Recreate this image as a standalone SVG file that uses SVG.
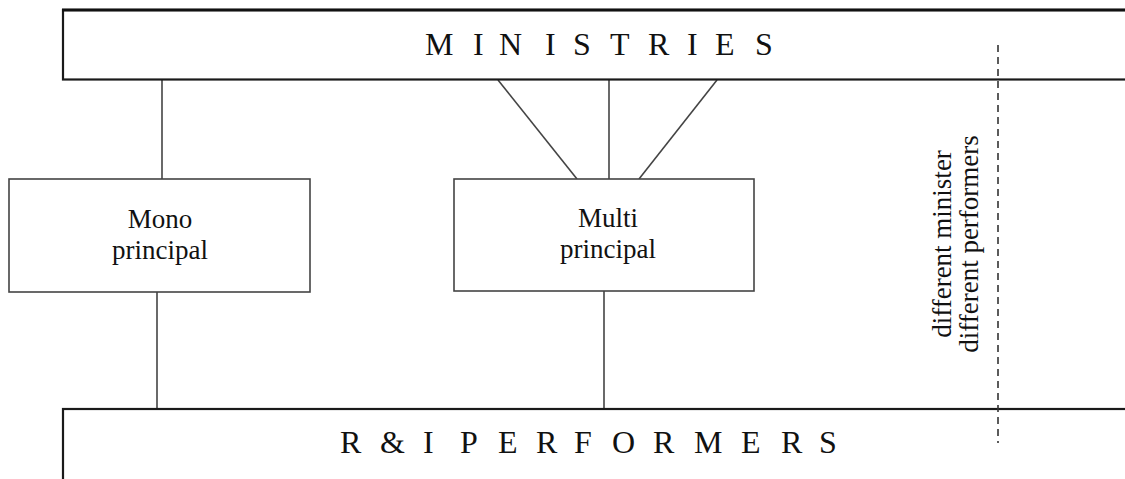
<svg xmlns="http://www.w3.org/2000/svg" width="1125" height="479" viewBox="0 0 1125 479">
  <style>
    .bar { fill: #fff; stroke: #1a1a1a; stroke-width: 2.2; }
    .box { fill: #fff; stroke: #444; stroke-width: 1.6; }
    .link { stroke: #444; stroke-width: 1.6; fill: none; }
    .divider { stroke: #333; stroke-width: 1.6; stroke-dasharray: 7 5; fill: none; }
    .label { font-family: "Liberation Serif", "Times New Roman", serif; fill: #111; }
    .big { font-size: 32px; }
    .small { font-size: 27px; text-anchor: middle; }
  </style>

  <rect width="1125" height="479" fill="#fff"/>

  <!-- connectors -->
  <g id="connectors">
    <line class="link" x1="162" y1="80" x2="162" y2="179"/>
    <line class="link" x1="157" y1="292" x2="157" y2="409"/>
    <line class="link" x1="498" y1="80" x2="577" y2="179"/>
    <line class="link" x1="609" y1="80" x2="609" y2="179"/>
    <line class="link" x1="717" y1="80" x2="639" y2="179"/>
    <line class="link" x1="604" y1="291" x2="604" y2="409"/>
  </g>

  <!-- top band -->
  <g id="ministries">
    <rect class="bar" x="63" y="10" width="1080" height="69.5"/>
    <line x1="62" y1="10" x2="1125" y2="10" stroke="#111" stroke-width="3"/>
    <text class="label big" y="55" x="425 453 473 483 499 521 545 555 573 586 610 630 648 670 687 697 715 736 755">M I N I S T R I E S</text>
  </g>

  <!-- bottom band -->
  <g id="performers">
    <rect class="bar" x="63" y="409" width="1080" height="100"/>
    <text class="label big" y="453" x="340 361 380 404 423 433 460 478 498 517 536 553 574 595 612 630 653 673 694 713 741 762 781 798 819 843">R &amp; I   P E R F O R M E R S</text>
  </g>

  <g id="mono">
    <rect class="box" x="9" y="179" width="301" height="113"/>
    <text class="label small" x="160" y="228">Mono</text>
    <text class="label small" x="160" y="259">principal</text>
  </g>

  <g id="multi">
    <rect class="box" x="454" y="179" width="300" height="112"/>
    <text class="label small" x="608" y="227">Multi</text>
    <text class="label small" x="608" y="258">principal</text>
  </g>

  <g id="boundary">
    <line class="divider" x1="998" y1="45" x2="998" y2="443"/>
    <text class="label small" transform="translate(951,244) rotate(-90)">different minister</text>
    <text class="label small" transform="translate(978,244) rotate(-90)">different performers</text>
  </g>
</svg>
